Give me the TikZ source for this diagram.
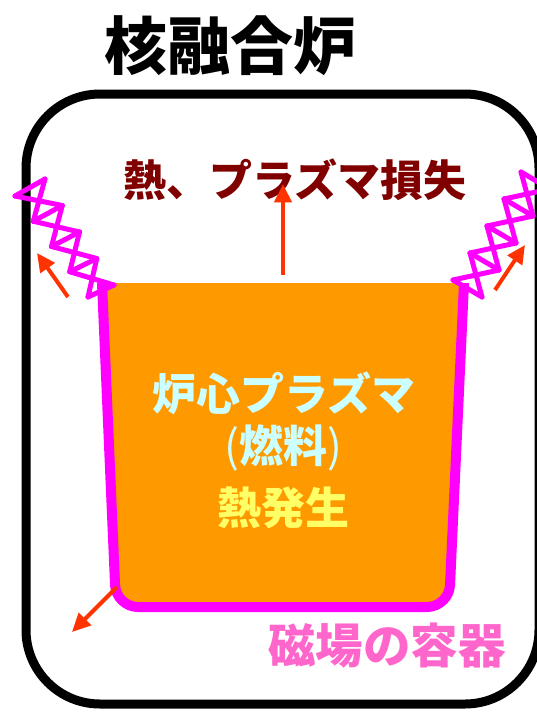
\documentclass[tikz,border=0pt]{standalone}
\usepackage{fontspec}
\setmainfont{Noto Sans CJK JP}
\usetikzlibrary{arrows.meta}
\definecolor{coreorange}{HTML}{FF9900}
\definecolor{fieldmag}{HTML}{FF00FF}
\definecolor{lossred}{HTML}{800000}
\definecolor{flowred}{HTML}{FF3300}
\definecolor{corecyan}{HTML}{CCFFFF}
\definecolor{heatyellow}{HTML}{FFFF66}
\definecolor{wallpink}{HTML}{FF66CC}
\tikzset{
  bigtext/.style={font=\fontsize{#1}{#1}\selectfont\bfseries,inner sep=0pt},
  flow/.style={-{Triangle[length=0.65cm,width=0.6cm]},draw=flowred,line width=4pt,line cap=butt},
  coil/.style={draw=fieldmag,line width=5pt}
}
\begin{document}
\begin{tikzpicture}[line cap=round,line join=round,x=1pt,y=-1pt]
\clip (0,0) rectangle (537,712);
% reactor wall
\draw [line width=9pt,rounded corners=74pt] (26,94) rectangle (539,704);
% plasma vessel
\fill [coreorange,rounded corners=22pt] (102,283) -- (116,607) -- (449,607) -- (464,283) -- cycle;
\fill [coreorange] (102,283) rectangle (464,320);
\draw [fieldmag,line width=10pt,line cap=butt,rounded corners=22pt] (102,283) -- (116,607) -- (449,607) -- (464,283);
% left coil
\foreach \i in {0,...,4} {
  \coordinate (L\i) at (15+18.25*\i,196+25.25*\i);
  \coordinate (R\i) at (45+17.25*\i,179+26.5*\i);
  \draw [coil] (L\i)-- (R\i);
}
\foreach \i [evaluate=\i as \j using int(\i+1)] in {0,...,3} {
  \draw [coil] (L\i)-- (R\j);
  \draw [coil] (R\i)-- (L\j);
}
% right coil
\foreach \i in {0,...,4} {
  \coordinate (A\i) at (453+17*\i,280-27*\i);
  \coordinate (B\i) at (482+17*\i,297-27*\i);
  \draw [coil] (A\i)-- (B\i);
}
\foreach \i [evaluate=\i as \j using int(\i+1)] in {0,...,3} {
  \draw [coil] (A\i)-- (B\j);
  \draw [coil] (B\i)-- (A\j);
}
% labels
\node [bigtext=63] (title) at (230,46) {核融合炉};
\node [bigtext=43,text=lossred] (loss) at (295,180) {熱、プラズマ損失};
\node [bigtext=44,text=corecyan] (core) at (284,393) {炉心プラズマ};
\node [bigtext=44,text=corecyan] (fuel) at (283,448) {{\mdseries(}燃料{\mdseries)}};
\node [bigtext=44,text=heatyellow] (heat) at (283,508) {熱発生};
\node [bigtext=47.5,text=wallpink] (wall) at (387,646) {磁場の容器};
% losses
\coordinate (topout) at (283,275);
\coordinate (topend) at (283,184);
\coordinate (leftout) at (68,297);
\coordinate (leftend) at (37,253);
\coordinate (rightout) at (495,290);
\coordinate (rightend) at (525,245);
\coordinate (lowout) at (117,587);
\coordinate (lowend) at (72,632);
\draw [flow] (topout)-- (topend);
\draw [flow] (leftout)-- (leftend);
\draw [flow] (rightout)-- (rightend);
\draw [flow] (lowout)-- (lowend);
\end{tikzpicture}
\end{document}
